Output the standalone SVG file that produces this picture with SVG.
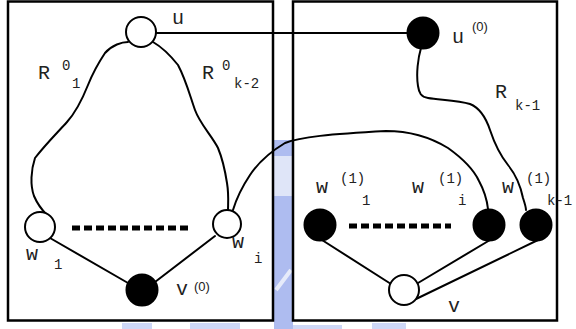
<svg xmlns="http://www.w3.org/2000/svg" width="576" height="329" viewBox="0 0 576 329">
<style>
.box{fill:none;stroke:#000;stroke-width:2.5}
.e{fill:none;stroke:#000;stroke-width:2;stroke-linecap:round;stroke-linejoin:round}
.dash{fill:none;stroke:#000;stroke-width:5;stroke-dasharray:8 4;stroke-linecap:butt}
.open{fill:#fff;stroke:#000;stroke-width:2}
.full{fill:#000;stroke:#000;stroke-width:2}
.t{font-family:"Liberation Mono",monospace;font-size:20px;fill:#222}
.s{font-family:"Liberation Mono",monospace;font-size:14px;fill:#222}
.a{font-family:"Liberation Sans",sans-serif;font-size:13px;fill:#222}
.wm{fill:#aebcf0}
</style>
<rect width="576" height="329" fill="#fff"/>
<g id="watermark">
<rect class="wm" x="274" y="140" width="19" height="189"/>
<rect x="274" y="156" width="19" height="40" fill="#dfe5f8"/>
<path d="M276 290 L291 270" stroke="#e6ebfa" stroke-width="4"/>
<rect class="wm" x="122" y="323" width="30" height="6" opacity="0.6"/>
<rect class="wm" x="190" y="323" width="50" height="6" opacity="0.6"/>
<rect class="wm" x="292" y="325" width="50" height="4" opacity="0.6"/>
<rect class="wm" x="372" y="323" width="34" height="6" opacity="0.6"/>
</g>
<g id="boxes">
<rect class="box" x="8" y="1.5" width="265" height="319"/>
<rect class="box" x="293" y="1.5" width="264" height="319"/>
</g>
<g id="connectors">
<path class="e" d="M156 33 L407 33"/>
<path class="e" d="M128 42 C122 42 112 45 105 53 C97 65 92 75 88 85 C82 100 76 112 67 122 C56 134 45 145 35 158 C31 170 30 185 34 196 C37 203 42 210 47 215"/>
<path class="e" d="M153 42 C160 46 170 55 178 65 C186 80 190 96 195 110 C200 124 212 136 218 148 C223 160 225 170 227 183 C229 195 228 203 228 211"/>
<path class="e" d="M233 210 C236 200 240 190 250 175 C258 163 270 152 285 143 C300 137 330 134 386 131 C410 131 430 137 448 148 C462 158 473 168 479 181 C485 192 487 200 488 209"/>
<path class="e" d="M421 48 C418 58 416 74 418 86 C419 93 421 97 428 98 C440 100 458 100 470 104 C480 108 486 118 490 130 C494 142 500 155 508 165 C516 175 521 188 523 198 C525 204 526 207 526 210"/>
<path class="e" d="M50 238 L128 283"/>
<path class="e" d="M215 236 L155 282"/>
<path class="e" d="M322 240 L391 284"/>
<path class="e" d="M490 240 L418 283"/>
<path class="e" d="M538 240 L416 299"/>
<path class="dash" d="M72 228 L190 228"/>
<path class="dash" d="M349 226 L451 226"/>
</g>
<g id="u"><circle class="open" cx="141" cy="32" r="15"/><text class="t" x="172" y="24">u</text></g>
<g id="u0"><circle class="full" cx="423" cy="33" r="15.5"/><text class="t" x="452" y="43">u</text><text class="a" x="472" y="31">(0)</text></g>
<g id="w1"><circle class="open" cx="40" cy="227" r="15"/><text class="t" x="26" y="260">w</text><text class="s" x="54" y="269">1</text></g>
<g id="wi"><circle class="open" cx="227" cy="224" r="14"/><text class="t" x="232" y="248">w</text><text class="s" x="254" y="263">i</text></g>
<g id="v0"><circle class="full" cx="142" cy="290" r="15.5"/><text class="t" x="176" y="295">v</text><text class="a" x="194" y="291">(0)</text></g>
<g id="w1_1"><circle class="full" cx="320" cy="225" r="15.5"/><text class="t" x="316" y="193">w</text><text class="s" x="340" y="183">(1)</text><text class="s" x="362" y="205">1</text></g>
<g id="w1_i"><circle class="full" cx="489" cy="225" r="15.5"/><text class="t" x="412" y="193">w</text><text class="s" x="438" y="183">(1)</text><text class="s" x="458" y="205">i</text></g>
<g id="w1_k1"><circle class="full" cx="536" cy="225" r="15.5"/><text class="t" x="502" y="193">w</text><text class="s" x="526" y="183">(1)</text><text class="s" x="547" y="205">k-1</text></g>
<g id="v"><circle class="open" cx="404" cy="290" r="15"/><text class="t" x="448" y="312">v</text></g>
<g id="labels">
<text class="t" x="38" y="79">R</text><text class="s" x="62" y="70">0</text><text class="s" x="72" y="88">1</text>
<text class="t" x="202" y="79">R</text><text class="s" x="222" y="70">0</text><text class="s" x="234" y="88">k-2</text>
<text class="t" x="495" y="98">R</text><text class="s" x="515" y="110">k-1</text>
</g>
</svg>
